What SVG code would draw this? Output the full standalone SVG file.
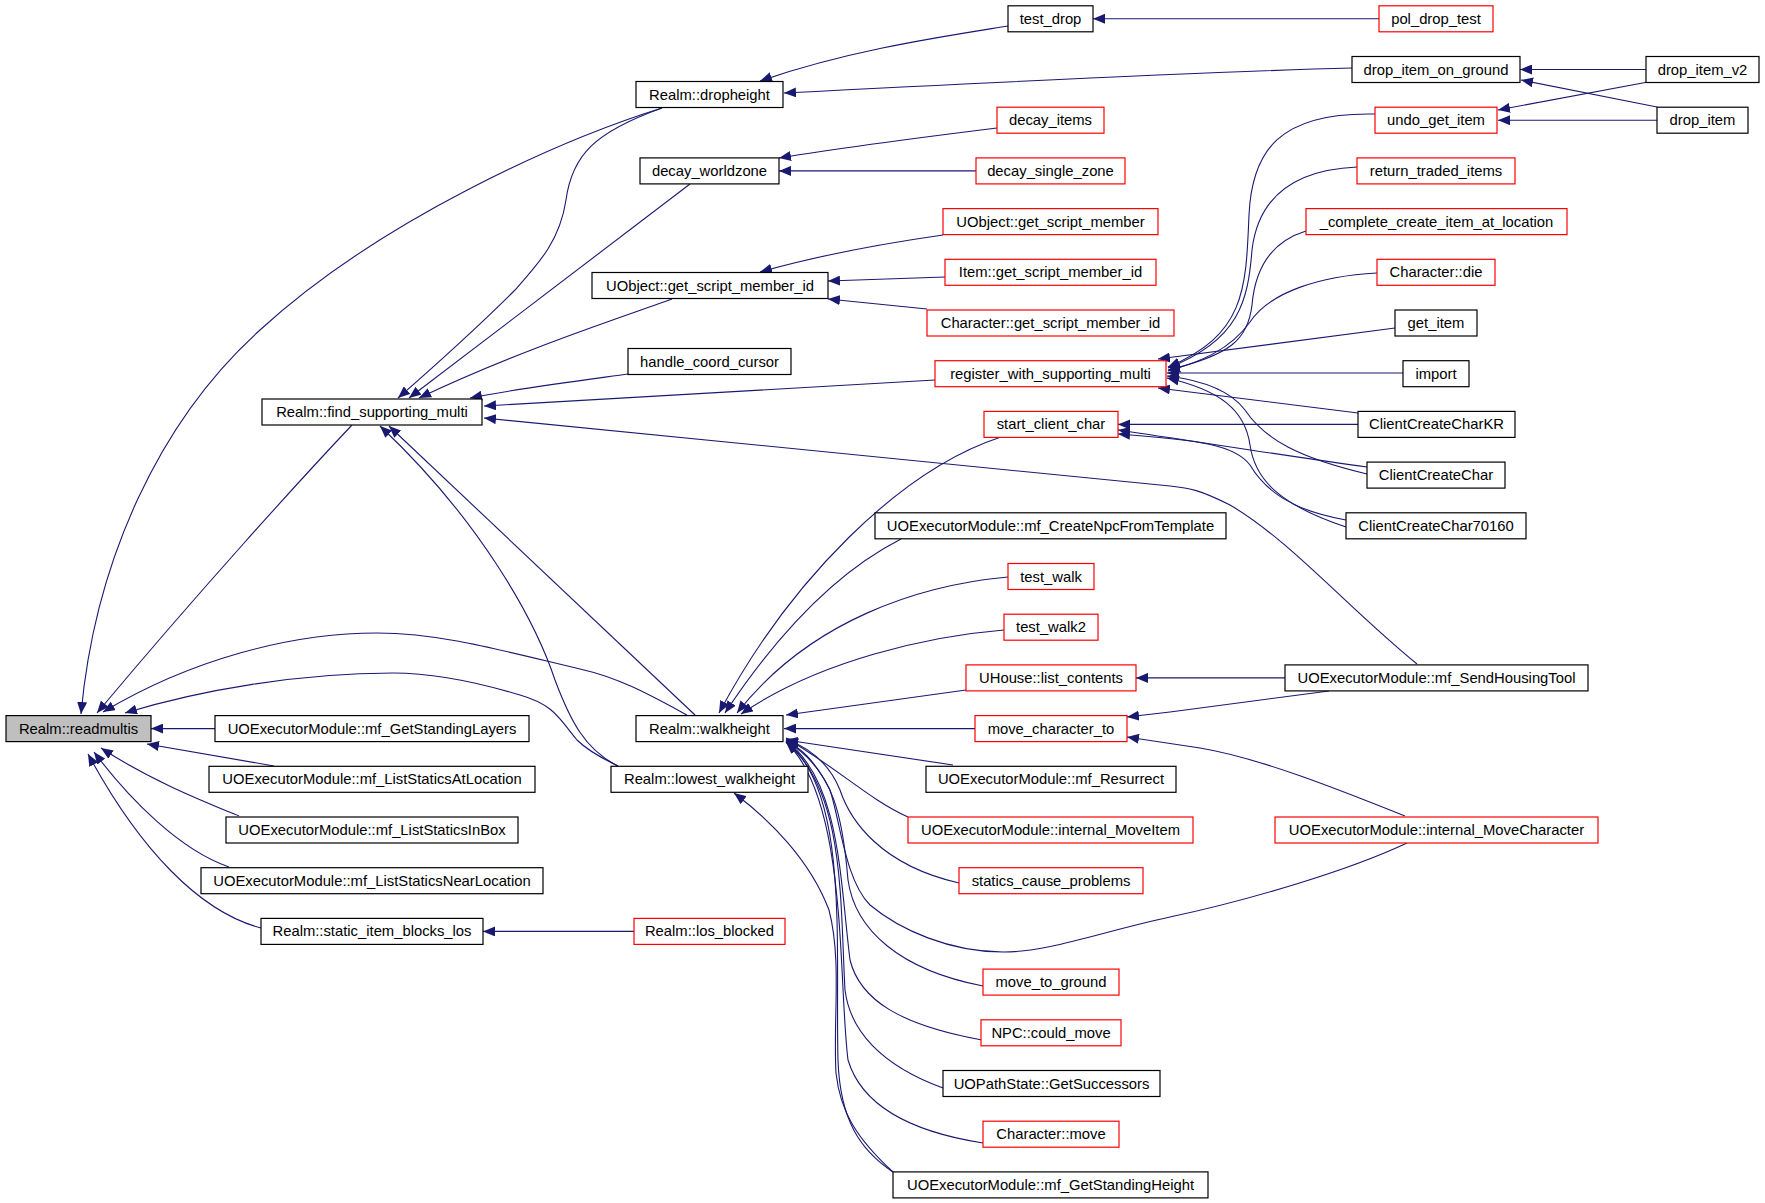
<svg xmlns="http://www.w3.org/2000/svg" width="1765" height="1203" viewBox="0 0 1765 1203">
<defs>
<marker id="ah" markerUnits="userSpaceOnUse" markerWidth="12" markerHeight="10" viewBox="0 0 12 10" refX="12" refY="5" orient="auto">
<path d="M0,0 L12,5 L0,10 z" fill="#191970"/>
</marker>
<style>
.n rect{fill:#ffffff;stroke:#000000;stroke-width:1.2}
.r rect{stroke:#ff0000}
.g rect{fill:#bfbfbf}
.n text{font-family:"Liberation Sans",Arial,sans-serif;font-size:14.8px;fill:#000000;text-anchor:middle}
#edges path{fill:none;stroke:#191970;stroke-width:1.1;marker-end:url(#ah)}
</style>
</defs>
<rect width="1765" height="1203" fill="#ffffff"/>
<g id="edges">
<path d="M662,108 C560,140 380,220 260,330 C160,420 95,560 81,714"/>
<path d="M662,108 C595,132 572,155 566,200 C560,240 540,262 515,290 C470,335 430,370 398,398"/>
<path d="M690,184 L409,398"/>
<path d="M672,299 C620,318 520,350 419,398"/>
<path d="M628,374 C600,378 520,388 470,398"/>
<path d="M935,380 L484,406"/>
<path d="M1417,664 C1350,610 1290,540 1230,505 C1200,490 1190,488 1170,486 L484,418"/>
<path d="M352,425 C300,480 200,590 97,713"/>
<path d="M695,715 L389,426"/>
<path d="M618,766 C585,750 570,720 555,680 C535,620 480,520 380,426"/>
<path d="M687,715 C650,695 620,678 580,669 C500,650 440,633 377,633 C290,633 190,660 103,712"/>
<path d="M618,766 C595,755 585,748 577,740 C560,720 555,705 520,695 C470,680 430,673 393,673 C300,673 200,690 125,713"/>
<path d="M215,728.6 L151,728.6"/>
<path d="M274,766 L147,744"/>
<path d="M239,816 C200,800 150,780 101,748"/>
<path d="M229,867 C180,850 130,800 94,752"/>
<path d="M261,928 C200,912 140,850 88,754"/>
<path d="M634,931.4 L483,931.4"/>
<path d="M1008,26 C940,37 850,50 760,81"/>
<path d="M1352,68 C1200,72 1000,82 784,93"/>
<path d="M997,128 C900,140 840,148 779,158"/>
<path d="M976,170.9 L779,170.9"/>
<path d="M943,235 C880,244 820,255 760,272"/>
<path d="M945,277 L828,281"/>
<path d="M927,309 L828,299"/>
<path d="M1379,18.8 L1093,18.8"/>
<path d="M1646,69.5 L1520,69.5"/>
<path d="M1657,107 L1521,80"/>
<path d="M1648,82 L1498,110"/>
<path d="M1657,120.2 L1498,120.2"/>
<path d="M1375,114 C1280,112 1252,150 1249,215 C1246,290 1245,335 1168,367"/>
<path d="M1357,167 C1290,170 1258,200 1252,250 C1248,300 1240,340 1168,368"/>
<path d="M1306,231 C1270,242 1255,270 1252,305 C1248,340 1230,355 1168,370"/>
<path d="M1377,273 C1320,276 1270,292 1250,322 C1230,350 1200,362 1168,371"/>
<path d="M1395,328 L1158,359"/>
<path d="M1403,373 L1167,373"/>
<path d="M1358,413 L1158,388"/>
<path d="M1367,474 C1300,458 1265,440 1245,410 C1230,390 1200,380 1167,376"/>
<path d="M1346,527 C1280,505 1255,480 1250,445 C1245,410 1220,390 1167,378"/>
<path d="M1358,424.4 L1118,424.4"/>
<path d="M1367,467 C1300,458 1200,442 1118,430"/>
<path d="M1346,520 C1290,510 1265,490 1250,465 C1235,445 1200,440 1118,434"/>
<path d="M1001,437 C900,470 790,580 719,713"/>
<path d="M901,539 C840,570 780,630 725,713"/>
<path d="M1008,577 C920,585 810,620 737,713"/>
<path d="M1004,630 C930,636 820,660 741,714"/>
<path d="M966,690 L786,715"/>
<path d="M975,728.6 L784,728.6"/>
<path d="M953,765 L786,740"/>
<path d="M908,817 C870,800 840,770 786,738"/>
<path d="M959,883 C880,865 850,820 840,790 C830,765 810,748 786,739"/>
<path d="M1407,843 C1350,870 1250,900 1170,917 C1100,932 1050,952 1003,952 C950,952 900,930 870,905 C845,880 840,820 830,790 C815,760 800,748 786,740"/>
<path d="M983,986 C900,970 855,930 848,880 C843,820 835,770 786,741"/>
<path d="M982,1040 C900,1025 860,1000 850,960 C840,880 840,780 786,741"/>
<path d="M943,1088 C880,1065 850,1030 845,990 C840,900 845,790 786,742"/>
<path d="M983,1143 C900,1130 860,1100 848,1060 C838,980 848,800 786,742"/>
<path d="M893,1172 C860,1150 840,1120 838,1060 C835,950 850,790 786,742"/>
<path d="M893,1172 C855,1137 840,1110 836,1073 C833,1020 842,960 829,910 C810,860 770,820 734,793"/>
<path d="M1285,677.9 L1136,677.9"/>
<path d="M1329,691 L1170,712 L1127,717"/>
<path d="M1405,816 C1340,790 1260,758 1200,748 L1127,737"/>
</g>
<g id="n_readmultis" class="n g"><rect x="6" y="715.6" width="145" height="26"/><text x="78.5" y="733.6">Realm::readmultis</text></g>
<g id="n_find_supporting_multi" class="n"><rect x="262" y="399" width="220" height="26"/><text x="372" y="417">Realm::find_supporting_multi</text></g>
<g id="n_mf_GetStandingLayers" class="n"><rect x="215" y="715.6" width="314" height="26"/><text x="372" y="733.6">UOExecutorModule::mf_GetStandingLayers</text></g>
<g id="n_mf_ListStaticsAtLocation" class="n"><rect x="209" y="766.3" width="326" height="26"/><text x="372" y="784.3">UOExecutorModule::mf_ListStaticsAtLocation</text></g>
<g id="n_mf_ListStaticsInBox" class="n"><rect x="226" y="817" width="292" height="26"/><text x="372" y="835">UOExecutorModule::mf_ListStaticsInBox</text></g>
<g id="n_mf_ListStaticsNearLocation" class="n"><rect x="201" y="867.7" width="342" height="26"/><text x="372" y="885.7">UOExecutorModule::mf_ListStaticsNearLocation</text></g>
<g id="n_static_item_blocks_los" class="n"><rect x="261" y="918.4" width="222" height="26"/><text x="372" y="936.4">Realm::static_item_blocks_los</text></g>
<g id="n_dropheight" class="n"><rect x="636" y="81.5" width="147" height="26"/><text x="709.5" y="99.5">Realm::dropheight</text></g>
<g id="n_decay_worldzone" class="n"><rect x="640" y="157.9" width="139" height="26"/><text x="709.5" y="175.9">decay_worldzone</text></g>
<g id="n_uobject_gsmi" class="n"><rect x="592" y="272.5" width="236" height="26"/><text x="710" y="290.5">UObject::get_script_member_id</text></g>
<g id="n_handle_coord_cursor" class="n"><rect x="628" y="348.5" width="163" height="26"/><text x="709.5" y="366.5">handle_coord_cursor</text></g>
<g id="n_walkheight" class="n"><rect x="636" y="715.6" width="147" height="26"/><text x="709.5" y="733.6">Realm::walkheight</text></g>
<g id="n_lowest_walkheight" class="n"><rect x="611" y="766.3" width="197" height="26"/><text x="709.5" y="784.3">Realm::lowest_walkheight</text></g>
<g id="n_los_blocked" class="n r"><rect x="634" y="918.4" width="151" height="26"/><text x="709.5" y="936.4">Realm::los_blocked</text></g>
<g id="n_test_drop" class="n"><rect x="1008" y="5.8" width="85" height="26"/><text x="1050.5" y="23.8">test_drop</text></g>
<g id="n_decay_items" class="n r"><rect x="997" y="107.2" width="107" height="26"/><text x="1050.5" y="125.2">decay_items</text></g>
<g id="n_decay_single_zone" class="n r"><rect x="976" y="157.9" width="149" height="26"/><text x="1050.5" y="175.9">decay_single_zone</text></g>
<g id="n_uobject_gsm" class="n r"><rect x="943" y="208.6" width="215" height="26"/><text x="1050.5" y="226.6">UObject::get_script_member</text></g>
<g id="n_item_gsmi" class="n r"><rect x="945" y="259.3" width="211" height="26"/><text x="1050.5" y="277.3">Item::get_script_member_id</text></g>
<g id="n_character_gsmi" class="n r"><rect x="927" y="310" width="247" height="26"/><text x="1050.5" y="328">Character::get_script_member_id</text></g>
<g id="n_register_with_supporting_multi" class="n r"><rect x="935" y="360.7" width="231" height="26"/><text x="1050.5" y="378.7">register_with_supporting_multi</text></g>
<g id="n_start_client_char" class="n r"><rect x="984" y="411.4" width="134" height="26"/><text x="1051" y="429.4">start_client_char</text></g>
<g id="n_mf_CreateNpcFromTemplate" class="n"><rect x="875" y="512.8" width="351" height="26"/><text x="1050.5" y="530.8">UOExecutorModule::mf_CreateNpcFromTemplate</text></g>
<g id="n_test_walk" class="n r"><rect x="1008" y="563.5" width="86" height="26"/><text x="1051" y="581.5">test_walk</text></g>
<g id="n_test_walk2" class="n r"><rect x="1004" y="614.2" width="94" height="26"/><text x="1051" y="632.2">test_walk2</text></g>
<g id="n_list_contents" class="n r"><rect x="966" y="664.9" width="170" height="26"/><text x="1051" y="682.9">UHouse::list_contents</text></g>
<g id="n_move_character_to" class="n r"><rect x="975" y="715.6" width="152" height="26"/><text x="1051" y="733.6">move_character_to</text></g>
<g id="n_mf_Resurrect" class="n"><rect x="926" y="766.3" width="250" height="26"/><text x="1051" y="784.3">UOExecutorModule::mf_Resurrect</text></g>
<g id="n_internal_MoveItem" class="n r"><rect x="908" y="817" width="285" height="26"/><text x="1050.5" y="835">UOExecutorModule::internal_MoveItem</text></g>
<g id="n_statics_cause_problems" class="n r"><rect x="959" y="867.7" width="184" height="26"/><text x="1051" y="885.7">statics_cause_problems</text></g>
<g id="n_move_to_ground" class="n r"><rect x="983" y="969.1" width="136" height="26"/><text x="1051" y="987.1">move_to_ground</text></g>
<g id="n_could_move" class="n r"><rect x="981" y="1019.8" width="140" height="26"/><text x="1051" y="1037.8">NPC::could_move</text></g>
<g id="n_GetSuccessors" class="n"><rect x="943" y="1070.5" width="217" height="26"/><text x="1051.5" y="1088.5">UOPathState::GetSuccessors</text></g>
<g id="n_character_move" class="n r"><rect x="983" y="1121.2" width="136" height="26"/><text x="1051" y="1139.2">Character::move</text></g>
<g id="n_mf_GetStandingHeight" class="n"><rect x="893" y="1171.9" width="315" height="26"/><text x="1050.5" y="1189.9">UOExecutorModule::mf_GetStandingHeight</text></g>
<g id="n_pol_drop_test" class="n r"><rect x="1379" y="5.8" width="114" height="26"/><text x="1436" y="23.8">pol_drop_test</text></g>
<g id="n_drop_item_on_ground" class="n"><rect x="1352" y="56.5" width="168" height="26"/><text x="1436" y="74.5">drop_item_on_ground</text></g>
<g id="n_undo_get_item" class="n r"><rect x="1375" y="107.2" width="122" height="26"/><text x="1436" y="125.2">undo_get_item</text></g>
<g id="n_return_traded_items" class="n r"><rect x="1357" y="157.9" width="158" height="26"/><text x="1436" y="175.9">return_traded_items</text></g>
<g id="n_complete_create_item_at_location" class="n r"><rect x="1306" y="208.6" width="261" height="26"/><text x="1436.5" y="226.6">_complete_create_item_at_location</text></g>
<g id="n_character_die" class="n r"><rect x="1377" y="259.3" width="118" height="26"/><text x="1436" y="277.3">Character::die</text></g>
<g id="n_get_item" class="n"><rect x="1395" y="310" width="82" height="26"/><text x="1436" y="328">get_item</text></g>
<g id="n_import" class="n"><rect x="1403" y="360.7" width="66" height="26"/><text x="1436" y="378.7">import</text></g>
<g id="n_ClientCreateCharKR" class="n"><rect x="1358" y="411.4" width="157" height="26"/><text x="1436.5" y="429.4">ClientCreateCharKR</text></g>
<g id="n_ClientCreateChar" class="n"><rect x="1367" y="462.1" width="138" height="26"/><text x="1436" y="480.1">ClientCreateChar</text></g>
<g id="n_ClientCreateChar70160" class="n"><rect x="1346" y="512.8" width="180" height="26"/><text x="1436" y="530.8">ClientCreateChar70160</text></g>
<g id="n_mf_SendHousingTool" class="n"><rect x="1285" y="664.9" width="303" height="26"/><text x="1436.5" y="682.9">UOExecutorModule::mf_SendHousingTool</text></g>
<g id="n_internal_MoveCharacter" class="n r"><rect x="1275" y="817" width="323" height="26"/><text x="1436.5" y="835">UOExecutorModule::internal_MoveCharacter</text></g>
<g id="n_drop_item_v2" class="n"><rect x="1646" y="56.5" width="113" height="26"/><text x="1702.5" y="74.5">drop_item_v2</text></g>
<g id="n_drop_item" class="n"><rect x="1657" y="107.2" width="91" height="26"/><text x="1702.5" y="125.2">drop_item</text></g>
</svg>
